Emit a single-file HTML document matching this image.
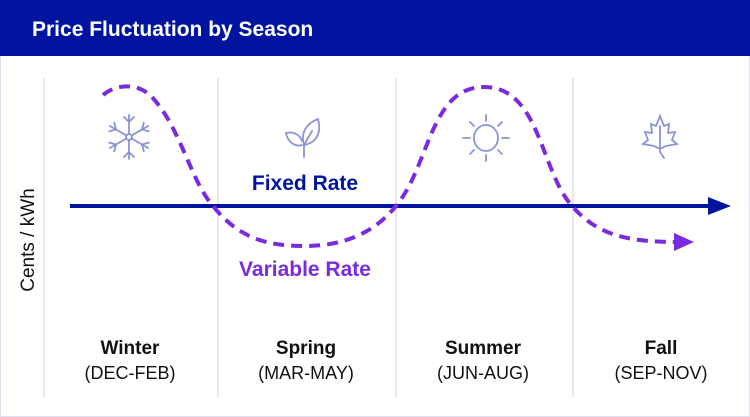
<!DOCTYPE html>
<html><head><meta charset="utf-8"><style>
body{margin:0;background:#fff;}
svg{display:block;font-family:"Liberation Sans",sans-serif;}
</style></head><body>
<svg width="750" height="417" viewBox="0 0 750 417">
<rect x="0.5" y="0.5" width="749" height="416" fill="#fff" stroke="#dde0ee"/>
<rect x="0" y="0" width="750" height="56" fill="#0014a0"/>
<text x="32" y="36" fill="#fff" font-size="21" font-weight="bold">Price Fluctuation by Season</text>
<g stroke="#e0e0e6" stroke-width="1.5">
<line x1="44" y1="78" x2="44" y2="397"/><line x1="218" y1="78" x2="218" y2="397"/>
<line x1="396" y1="78" x2="396" y2="397"/><line x1="573" y1="78" x2="573" y2="397"/>
</g>
<text transform="translate(34,240) rotate(-90)" text-anchor="middle" font-size="19" fill="#111">Cents / kWh</text>
<g stroke="#8a93d8" stroke-width="1.8" fill="none" stroke-linecap="round">
<g transform="translate(129,137)">
<circle r="3"/>
<g id="arm"><line x1="0" y1="-3" x2="0" y2="-22"/><line x1="0" y1="-15" x2="-5" y2="-20"/><line x1="0" y1="-15" x2="5" y2="-20"/></g>
<use href="#arm" transform="rotate(60)"/><use href="#arm" transform="rotate(120)"/><use href="#arm" transform="rotate(180)"/><use href="#arm" transform="rotate(240)"/><use href="#arm" transform="rotate(300)"/>
</g>
<g transform="translate(302,137)">
<path d="M2,20 L2,8"/>
<path d="M2,8 C-2,-6 6,-14 16,-18 C20,-4 14,6 2,8 Z"/>
<path d="M2,8 L10,-6"/>
<path d="M0,8 C-6,10 -14,6 -16,-4 C-8,-6 -2,-2 0,4"/>
</g>
<g transform="translate(486,138)">
<ellipse rx="12" ry="13"/>
<line x1="0" y1="-17" x2="0" y2="-23"/><line x1="0" y1="17" x2="0" y2="23"/>
<line x1="-16" y1="0" x2="-23" y2="0"/><line x1="16" y1="0" x2="23" y2="0"/>
<line x1="-12" y1="-12" x2="-16" y2="-16"/><line x1="12" y1="-12" x2="16" y2="-16"/>
<line x1="-12" y1="12" x2="-16" y2="16"/><line x1="12" y1="12" x2="16" y2="16"/>
</g>
<g transform="translate(660,136)">
<path d="M0,-20 L4,-10 L9,-12 L8,-3 L15,-4 L12,4 L17,8 L6,10 L2,12 L-2,12 L-6,10 L-17,8 L-12,4 L-15,-4 L-8,-3 L-9,-12 L-4,-10 Z"/>
<path d="M0,-10 L0,16 L4,22"/>
</g>
</g>
<line x1="70" y1="206" x2="712" y2="206" stroke="#0014a0" stroke-width="4"/>
<polygon points="708,197 731,206 708,215" fill="#0014a0"/>
<text x="305" y="190" text-anchor="middle" font-size="21" font-weight="bold" fill="#0014a0">Fixed Rate</text>
<path d="M103,95 C115,85 135,82 150,95 C180,125 190,180 213,206 C240,240 270,246 305,246 C345,246 375,232 396,206 C430,165 430,87 484,87 C540,87 540,170 572,206 C595,232 620,242 678,242" fill="none" stroke="#7a2be0" stroke-width="4" stroke-dasharray="11,7"/>
<polygon points="674,233 694,242 674,251" fill="#7a2be0"/>
<text x="305" y="276" text-anchor="middle" font-size="21" font-weight="bold" fill="#7a2be0">Variable Rate</text>
<g text-anchor="middle" fill="#111">
<g font-size="19" font-weight="bold">
<text x="130" y="354">Winter</text><text x="306" y="354">Spring</text><text x="483" y="354">Summer</text><text x="661" y="354">Fall</text>
</g>
<g font-size="18">
<text x="130" y="379">(DEC-FEB)</text><text x="306" y="379">(MAR-MAY)</text><text x="483" y="379">(JUN-AUG)</text><text x="661" y="379">(SEP-NOV)</text>
</g>
</g>
</svg>
</body></html>
